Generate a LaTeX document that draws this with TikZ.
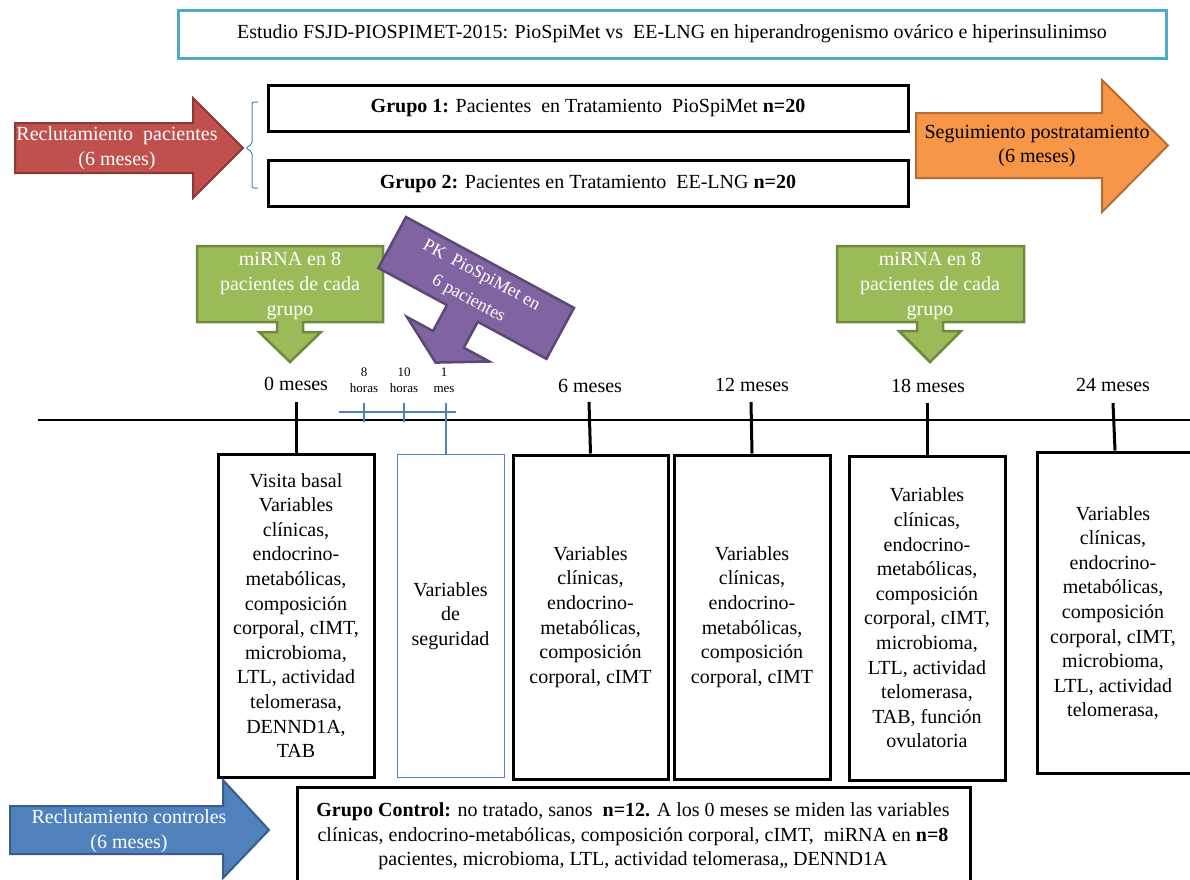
\documentclass[tikz,border=0pt]{standalone}
\usepackage{fontspec}
\setmainfont{Liberation Serif}
\definecolor{cTeal}{HTML}{4BACC6}
\definecolor{cRed}{HTML}{C0504D}
\definecolor{cRedD}{HTML}{8C3836}
\definecolor{cOra}{HTML}{F79646}
\definecolor{cOraD}{HTML}{B66D31}
\definecolor{cGre}{HTML}{9BBB59}
\definecolor{cGreD}{HTML}{71893F}
\definecolor{cPur}{HTML}{8064A2}
\definecolor{cPurD}{HTML}{5C4776}
\definecolor{cBlu}{HTML}{4F81BD}
\definecolor{cBluD}{HTML}{385D8A}
\begin{document}
\begin{tikzpicture}[x=1pt,y=-1pt,
  every node/.style={inner sep=0pt, align=center, font=\fontsize{20}{24.6}\selectfont},
  bigarrow/.style={line width=2pt, line join=miter},
  callout/.style={fill=cGre, draw=cGreD, line width=2.5pt, line join=miter},
  varbox/.style={draw=black, line width=3pt, fill=white},
  tick/.style={line width=3pt},
  scaletick/.style={draw=cBlu, line width=1.5pt},
  small/.style={font=\fontsize{13}{16}\selectfont},
  lbl/.style={font=\fontsize{20}{24}\selectfont}]
\useasboundingbox (0,0) rectangle (1190,879);
\clip (0,0) rectangle (1190,879);

% title
\node[draw=cTeal, line width=3pt, minimum width=988pt, minimum height=48pt,
  font=\fontsize{20}{22}\selectfont] (title) at (672,34)
  {Estudio FSJD-PIOSPIMET-2015: PioSpiMet vs\ \ EE-LNG en hiperandrogenismo\ ovárico e hiperinsulinimso};

% red recruitment arrow
\draw[bigarrow, fill=cRed, draw=cRedD] (15,123) -- (193,123) -- (193,98) -- (243,148) -- (193,198) -- (193,173) -- (15,173) -- cycle;
\node[white] (recl) at (117,148) {Reclutamiento\ \ pacientes\\(6 meses)};

% brace
\coordinate (brtip) at (246,148);
\draw[cBlu, line width=1pt, rounded corners=2pt] (258,102) -- (252,102) -- (252,144) -- (brtip) -- (252,152) -- (252,188) -- (258,188);

% groups
\node[draw, line width=3pt, minimum width=640pt, minimum height=46pt, font=\fontsize{20}{22}\selectfont] (g1) at (588,108)
  {\textbf{Grupo 1:} Pacientes\ \ en Tratamiento\ \ PioSpiMet \textbf{n=20}};
\node[draw, line width=3pt, minimum width=640pt, minimum height=46pt, font=\fontsize{20}{22}\selectfont] (g2) at (588,183.5)
  {\textbf{Grupo 2:} Pacientes en Tratamiento\ \ EE-LNG \textbf{n=20}};

% orange follow-up arrow
\draw[bigarrow, fill=cOra, draw=cOraD] (916,113) -- (1102,113) -- (1102,80) -- (1168,145.5) -- (1102,212) -- (1102,178) -- (916,178) -- cycle;
\node (seg) at (1037,146) {Seguimiento postratamiento\\(6 meses)};

% green callouts
\draw[callout] (197,246) -- (383,246) -- (383,322) -- (303,322) -- (303,332) -- (321,332) -- (290,362) -- (259,332) -- (277,332) -- (277,322) -- (197,322) -- cycle;
\node[white] (mi1) at (290,286) {miRNA en 8\\pacientes de cada\\grupo};
\draw[callout] (837,246) -- (1024,246) -- (1024,322) -- (943,322) -- (943,331) -- (961,331) -- (930,362) -- (899,331) -- (917,331) -- (917,322) -- (837,322) -- cycle;
\node[white] (mi2) at (930,286) {miRNA en 8\\pacientes de cada\\grupo};

% purple rotated callout
\begin{scope}[shift={(406,217)}, rotate=-28.4]
\draw[fill=cPur, draw=cPurD, line width=2.5pt, line join=miter] (0,0) -- (191,0) -- (191,58) -- (113,58) -- (113,87.5) -- (142,87.5) -- (95.25,114) -- (48.5,87.5) -- (78,87.5) -- (78,58) -- (0,58) -- cycle;
\node[white, transform shape, font=\fontsize{18}{27}\selectfont] (pk) at (94,29.5) {PK\ \ PioSpiMet en\\6 pacientes};
\end{scope}

% time labels
\node[lbl] (m0) at (296,384) {0 meses};
\node[lbl] (m6) at (590,386) {6 meses};
\node[lbl] (m12) at (752,385) {12 meses};
\node[lbl] (m18) at (928,386) {18 meses};
\node[lbl] (m24) at (1113,385) {24 meses};
\node[small] (h8) at (364,380) {8\\horas};
\node[small] (h10) at (404,380) {10\\horas};
\node[small] (h1m) at (444,380) {1\\mes};

% timeline
\coordinate (tlL) at (38,420);
\coordinate (tlR) at (1192,420);
\draw[line width=2.2pt] (tlL) -- (tlR);

% boxes
\node[varbox, minimum width=156pt, minimum height=323pt] (b0) at (296,615.5)
  {Visita basal\\Variables\\clínicas,\\endocrino-\\metabólicas,\\composición\\corporal, cIMT,\\microbioma,\\LTL, actividad\\telomerasa,\\DENND1A,\\TAB};
\node[draw=cBlu, line width=1pt, minimum width=107pt, minimum height=323pt] (bs) at (450.5,616)
  {Variables\\de\\seguridad};
\node[varbox, minimum width=155pt, minimum height=324pt] (b6) at (590.5,617)
  {Variables\\clínicas,\\endocrino-\\metabólicas,\\composición\\corporal, cIMT};
\node[varbox, minimum width=156pt, minimum height=324pt] (b12) at (752,617)
  {Variables\\clínicas,\\endocrino-\\metabólicas,\\composición\\corporal, cIMT};
\node[varbox, minimum width=156pt, minimum height=324pt] (b18) at (927,618)
  {Variables\\clínicas,\\endocrino-\\metabólicas,\\composición\\corporal, cIMT,\\microbioma,\\LTL, actividad\\telomerasa,\\TAB, función\\ovulatoria};
\node[varbox, minimum width=156pt, minimum height=321pt] (b24) at (1115,612.5) {};
\node (b24t) at (1113,613)
  {Variables\\clínicas,\\endocrino-\\metabólicas,\\composición\\corporal, cIMT,\\microbioma,\\LTL, actividad\\telomerasa,};

% ticks
\coordinate (t0) at (296,402);
\coordinate (t6) at (589,402);
\coordinate (t12) at (751,402);
\coordinate (t18) at (927,403);
\coordinate (t24) at (1113,403);
\draw[tick] (t0) -- (b0.north);
\draw[tick] (t6) -- (b6.north);
\draw[tick] (t12) -- (b12.north);
\draw[tick] (t18) -- (b18.north);
\draw[tick] (t24) -- (b24.north);

% small scale
\coordinate (sL) at (339,412);
\coordinate (sR) at (456,412);
\coordinate (s8a) at (364,403);
\coordinate (s8b) at (364,422);
\coordinate (s10a) at (404,403);
\coordinate (s10b) at (404,422);
\coordinate (s1a) at (446,403);
\draw[scaletick] (sL) -- (sR);
\draw[scaletick] (s8a) -- (s8b);
\draw[scaletick] (s10a) -- (s10b);
\draw[scaletick] (s1a) -- (bs.north -| s1a);

% blue control arrow
\draw[bigarrow, fill=cBlu, draw=cBluD] (10,806) -- (223,806) -- (223,780) -- (269,830) -- (223,878) -- (223,854) -- (10,854) -- cycle;
\node[white] (rc) at (129,831) {Reclutamiento controles\\(6 meses)};

% control group box
\node[draw, line width=3pt, fill=white, minimum width=673pt, minimum height=120pt] (ctrl) at (633.5,847) {};
\node (ctrlt) at (633,836.5)
  {\textbf{Grupo Control:} no tratado, sanos\ \ \textbf{n=12.} A los 0 meses se miden las variables\\
   clínicas, endocrino-metabólicas,\ composición\ corporal, cIMT,\ \ miRNA en \textbf{n=8}\\
   pacientes, microbioma,\ LTL,\ actividad telomerasa,,\ DENND1A};
\end{tikzpicture}
\end{document}
